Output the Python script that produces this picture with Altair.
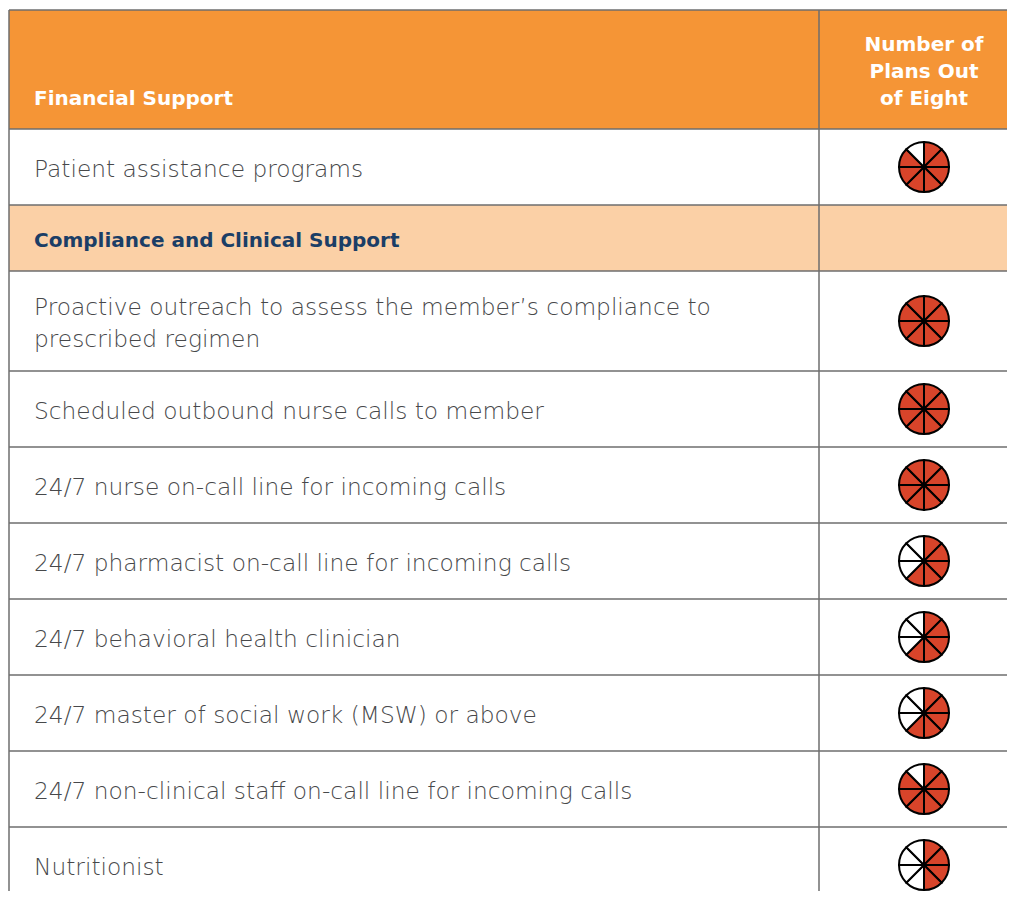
import math
import altair as alt
import pandas as pd

# ---- data -------------------------------------------------------------
header_left = "Financial Support"
header_right = ["Number of", "Plans Out", "of Eight"]

row_labels = [
    "Patient assistance programs",
    "Compliance and Clinical Support",
    "Proactive outreach to assess the member’s compliance to\nprescribed regimen",
    "Scheduled outbound nurse calls to member",
    "24/7 nurse on-call line for incoming calls",
    "24/7 pharmacist on-call line for incoming calls",
    "24/7 behavioral health clinician",
    "24/7 master of social work (MSW) or above",
    "24/7 non-clinical staff on-call line for incoming calls",
    "Nutritionist",
]
row_kinds = ["item", "section", "item", "item", "item", "item", "item", "item", "item", "item"]
plans_out_of_eight = [7, None, 8, 8, 8, 5, 5, 5, 7, 4]

# ---- layout (pixels) ----------------------------------------------------
W = 998
H = 881
HEADER_H = 119
SECTION_H = 66
ITEM_H = 76
EXTRA_LINE = 24
LINE_GAP = 32
TEXT_X = 25
DIV_X = 810
ICON_X = 915
RADIUS = 25

ORANGE = "#F59536"
PEACH = "#FBD0A6"
RED = "#D8442A"
GREY_TXT = "#47484A"
NAVY = "#1B3E66"
LINE = "#6E6E6E"

xs = alt.Scale(domain=[0, W], range=[0, W], nice=False, zero=False)
ys = alt.Scale(domain=[0, H], range=[0, H], nice=False, zero=False)

bg_rows, text_rows, pie_rows, hlines = [], [], [], []
bg_rows.append({"x0": 0, "x1": W, "y0": 0, "y1": HEADER_H, "fill": ORANGE})
hlines.append({"y": 0})
hlines.append({"y": HEADER_H})
text_rows.append({"x": TEXT_X, "y": HEADER_H - 30, "t": header_left, "kind": "header", "align": "left"})
for i, t in enumerate(header_right):
    text_rows.append({"x": ICON_X, "y": HEADER_H - 30 - (len(header_right) - 1 - i) * 27,
                      "t": t, "kind": "header", "align": "center"})

top = HEADER_H
for label, kind, n in zip(row_labels, row_kinds, plans_out_of_eight):
    lines = label.split("\n")
    h = SECTION_H if kind == "section" else ITEM_H + EXTRA_LINE * (len(lines) - 1)
    bottom = top + h
    cy = (top + bottom) / 2
    bg_rows.append({"x0": 0, "x1": W, "y0": top, "y1": bottom,
                    "fill": PEACH if kind == "section" else "#FFFFFF"})
    for j, ln in enumerate(lines):
        text_rows.append({"x": TEXT_X, "y": cy + 2.5 + (j - (len(lines) - 1) / 2) * LINE_GAP,
                          "t": ln, "kind": kind, "align": "left"})
    if n is not None:
        for k in range(8):
            pie_rows.append({"cx": ICON_X, "cy": cy,
                             "t0": k * math.pi / 4, "t1": (k + 1) * math.pi / 4,
                             "fill": RED if k < n else "#FFFFFF"})
    hlines.append({"y": bottom})
    top = bottom

bg = pd.DataFrame(bg_rows)
tx = pd.DataFrame(text_rows)
pie = pd.DataFrame(pie_rows)
hl = pd.DataFrame(hlines)
hl["x0"] = 0
hl["x1"] = W
vl = pd.DataFrame({"x": [0, DIV_X], "y0": [0, 0], "y1": [H + 40, H + 40]})

rects = alt.Chart(bg).mark_rect(strokeWidth=0).encode(
    x=alt.X("x0:Q", scale=xs, axis=None), x2="x1:Q",
    y=alt.Y("y0:Q", scale=ys, axis=None), y2="y1:Q",
    fill=alt.Fill("fill:N", scale=None),
)

hrules = alt.Chart(hl).mark_rule(color=LINE, strokeWidth=1.5).encode(
    x=alt.X("x0:Q", scale=xs, axis=None), x2="x1:Q",
    y=alt.Y("y:Q", scale=ys, axis=None),
)
vrules = alt.Chart(vl).mark_rule(color=LINE, strokeWidth=1.5).encode(
    x=alt.X("x:Q", scale=xs, axis=None),
    y=alt.Y("y0:Q", scale=ys, axis=None), y2="y1:Q",
)

def text_layer(kind, color, size, weight, align, font):
    d = tx[(tx["kind"] == kind) & (tx["align"] == align)]
    return alt.Chart(d).mark_text(
        align=align, baseline="middle", font=font,
        fontSize=size, fontWeight=weight, color=color,
    ).encode(
        x=alt.X("x:Q", scale=xs, axis=None),
        y=alt.Y("y:Q", scale=ys, axis=None),
        text="t:N",
    )

pies = alt.Chart(pie).mark_arc(radius=RADIUS, stroke="#000000", strokeWidth=2).encode(
    x=alt.X("cx:Q", scale=xs, axis=None),
    y=alt.Y("cy:Q", scale=ys, axis=None),
    theta=alt.Theta("t0:Q", scale=None),
    theta2="t1:Q",
    fill=alt.Fill("fill:N", scale=None),
)

chart = alt.layer(
    rects, hrules, vrules,
    text_layer("header", "#FFFFFF", 20, "bold", "left", "DejaVu Sans"),
    text_layer("header", "#FFFFFF", 20, "bold", "center", "DejaVu Sans"),
    text_layer("section", NAVY, 20, "bold", "left", "DejaVu Sans"),
    text_layer("item", GREY_TXT, 23.3, 200, "left", "DejaVu Sans"),
    pies,
).properties(
    width=W, height=H,
    padding={"left": 1, "top": 2, "right": 0, "bottom": 0},
    autosize=alt.AutoSizeParams(type="none"),
).configure_view(stroke=None)

chart.save("out.html", embed_options={"renderer": "svg", "actions": False})
